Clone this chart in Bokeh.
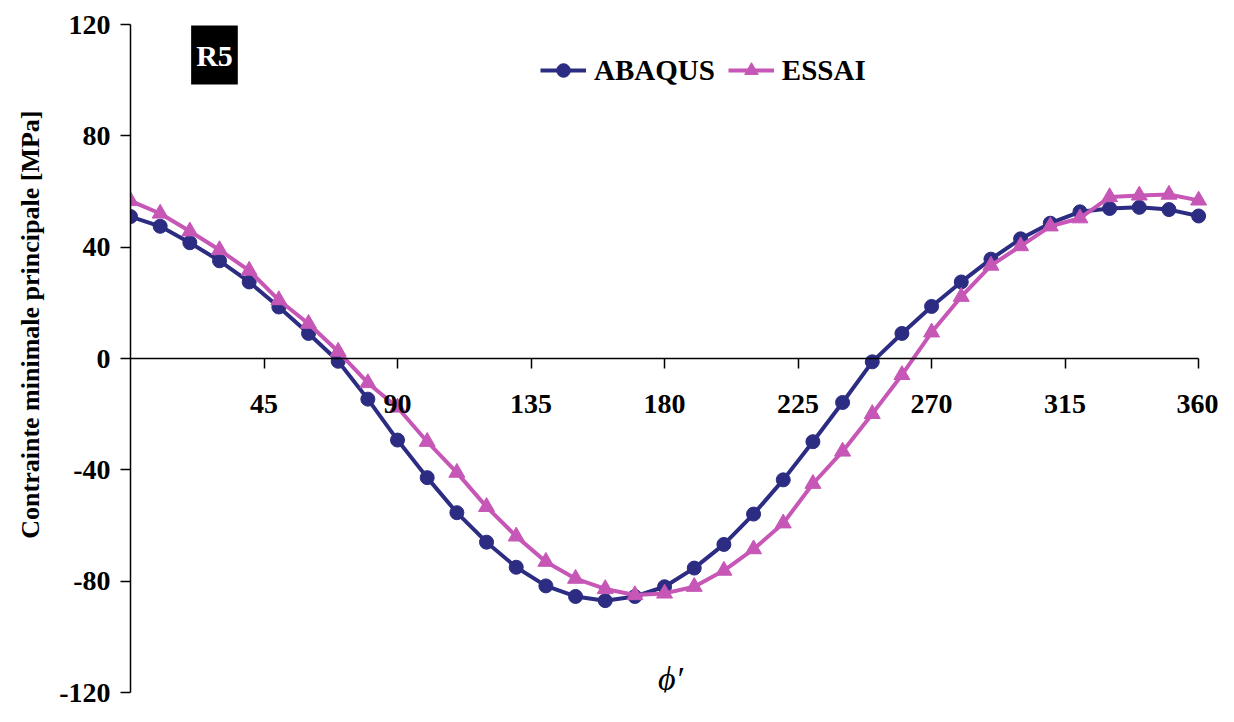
from bokeh.plotting import figure
from bokeh.models import Range1d, FixedTicker, Label, Title
from bokeh.embed import file_html
from bokeh.resources import INLINE

# Data
phi = [0, 10, 20, 30, 40, 50, 60, 70, 80, 90, 100, 110, 120, 130, 140, 150, 160, 170, 180,
       190, 200, 210, 220, 230, 240, 250, 260, 270, 280, 290, 300, 310, 320, 330, 340, 350, 360]
abaqus = [51.0, 47.5, 41.6, 35.1, 27.5, 18.5, 9.0, -1.0, -14.6, -29.3, -42.8, -55.4, -66.0, -75.0,
          -81.7, -85.5, -87.0, -85.5, -82.0, -75.3, -66.8, -55.9, -43.6, -29.9, -15.8, -1.2, 9.0,
          18.7, 27.5, 35.7, 43.0, 48.6, 52.7, 53.9, 54.3, 53.5, 51.2]
essai = [56.6, 52.1, 45.7, 39.0, 31.6, 21.0, 12.5, 2.5, -8.8, -17.6, -29.9, -41.0, -53.3, -63.9,
         -73.0, -79.1, -82.8, -85.0, -84.4, -82.0, -76.2, -68.5, -59.2, -45.0, -33.4, -19.9, -5.9,
         9.4, 22.2, 33.4, 40.4, 47.5, 50.4, 58.0, 58.6, 58.9, 56.8]
x_ticks = [45, 90, 135, 180, 225, 270, 315, 360]
y_ticks = [-120, -80, -40, 0, 40, 80, 120]

blue = "#2B2C82"
pink = "#C657B6"
font = "Liberation Serif"

p = figure(width=1218, height=706, x_range=Range1d(0, 366.7), y_range=Range1d(-120, 120),
           output_backend="svg", toolbar_location=None,
           min_border_left=130, min_border_right=0, min_border_top=24, min_border_bottom=14)
p.outline_line_color = None
p.grid.visible = False
p.background_fill_color = "white"

p.line(phi, abaqus, line_color=blue, line_width=4, legend_label="ABAQUS")
p.scatter(phi, abaqus, marker="circle", size=14, fill_color=blue, line_color=blue, legend_label="ABAQUS")
p.line(phi, essai, line_color=pink, line_width=4, legend_label="ESSAI")
p.scatter(phi, essai, marker="triangle", size=16, fill_color=pink, line_color=pink, legend_label="ESSAI")

# x axis at y = 0
xa = p.xaxis[0]
xa.fixed_location = 0
xa.bounds = (0, 360)
xa.ticker = FixedTicker(ticks=x_ticks)
xa.minor_tick_line_color = None
xa.major_tick_in = 0
xa.major_tick_out = 10
xa.axis_line_color = "black"
xa.axis_line_width = 1.5
xa.major_tick_line_width = 1.5
xa.major_label_text_font = font
xa.major_label_text_font_style = "bold"
xa.major_label_text_font_size = "28px"
xa.major_label_text_color = "black"
xa.major_label_standoff = 26

ya = p.yaxis[0]
ya.ticker = FixedTicker(ticks=y_ticks)
ya.major_label_overrides = {t: str(t) for t in y_ticks}
ya.minor_tick_line_color = None
ya.major_tick_in = 0
ya.major_tick_out = 10
ya.axis_line_width = 1.5
ya.major_tick_line_width = 1.5
ya.major_label_text_font = font
ya.major_label_text_font_style = "bold"
ya.major_label_text_font_size = "28px"
ya.major_label_text_color = "black"
ya.major_label_standoff = 10

ytitle = Title(text="Contrainte minimale principale [MPa]", align="right", offset=86,
               text_color="black", text_font=font, text_font_style="bold",
               text_font_size="26px", standoff=24)
p.add_layout(ytitle, "left")

leg = p.legend[0]
leg.orientation = "horizontal"
leg.location = (410, 605)
leg.border_line_color = None
leg.background_fill_alpha = 0
leg.label_text_font = font
leg.label_text_font_style = "bold"
leg.label_text_font_size = "29px"
leg.label_text_color = "black"
leg.glyph_width = 46
leg.glyph_height = 34
leg.label_standoff = 8
leg.spacing = 13
leg.padding = 0
leg.margin = 0

r5 = Label(x=28.3, y=109, text="R5", text_color="white", text_font=font,
           text_font_style="bold", text_font_size="30px", text_align="center",
           text_baseline="middle", background_fill_color="black", padding=dict(x=5, y=13))
p.add_layout(r5)

phi_lab = Label(x=182, y=-115, text="ϕ′", text_color="black", text_font=font,
                text_font_style="italic", text_font_size="34px", text_align="center",
                text_baseline="middle")
p.add_layout(phi_lab)

open("out.html", "w").write(file_html(p, INLINE))
